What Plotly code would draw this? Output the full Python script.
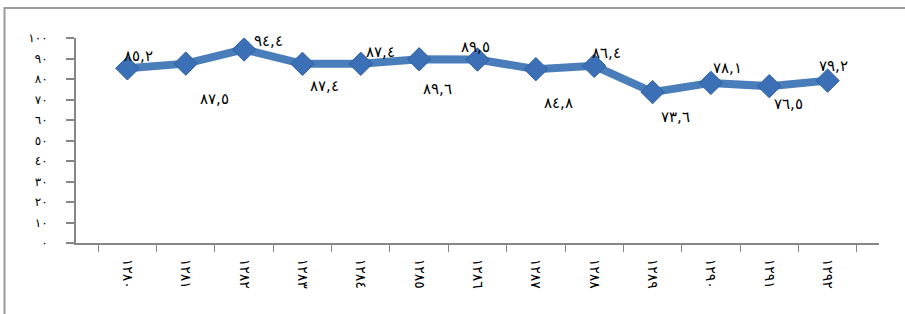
import plotly.graph_objects as go

years = [1280, 1281, 1282, 1283, 1284, 1285, 1286, 1287, 1288, 1289, 1290, 1291, 1292]
values = [85.2, 87.5, 94.4, 87.4, 87.4, 89.6, 89.5, 84.8, 86.4, 73.6, 78.1, 76.5, 79.2]
y_ticks = [0, 10, 20, 30, 40, 50, 60, 70, 80, 90, 100]

# label placement (pixels relative to each marker; style only)
label_dx = [11, 29, 24, 22, 20, 18, -2, 23, 12, 23, 17, 19, 6]
label_dy = [-12, 35, -8, 22, -12, 30, -13, 34, -13, 25, -15, 18, -15]

AR = str.maketrans("0123456789.", "٠١٢٣٤٥٦٧٨٩,")


def ar(v):
    return str(v).translate(AR)


cats = [ar(y) for y in years]

W, H = 905, 314
ML, MR, MT, MB = 76, 26, 38, 71
pw, ph = W - ML - MR, H - MT - MB

fig = go.Figure()
fig.add_trace(go.Scatter(
    x=cats, y=values, mode="lines+markers",
    line=dict(color="#4a7ebb", width=8),
    marker=dict(symbol="diamond", size=18, color="#3b70b6",
                line=dict(color="#2e5f9f", width=1)),
    hoverinfo="skip", showlegend=False,
))

for c, v, dx, dy in zip(cats, values, label_dx, label_dy):
    fig.add_annotation(
        x=c, y=v, text=ar(v), showarrow=False,
        xshift=dx, yshift=-dy,
        font=dict(family="DejaVu Sans", size=15, color="#000000"),
    )

# outer chart frame
fig.add_shape(type="rect", xref="paper", yref="paper",
              x0=(4.5 - ML) / pw, x1=(W + 5 - ML) / pw,
              y0=(H - MB - (H + 5)) / ph, y1=(H - MB - 8) / ph,
              line=dict(color="#9a9a9a", width=2), layer="below")

fig.update_layout(
    width=W, height=H,
    margin=dict(l=ML, r=MR, t=MT, b=MB),
    paper_bgcolor="white", plot_bgcolor="white",
    xaxis=dict(
        type="category", showgrid=False, showline=True, linecolor="#868686",
        linewidth=2, ticks="outside", tickson="boundaries", ticklen=7,
        tickcolor="#868686", tickwidth=1, tickangle=90,
        tickfont=dict(family="DejaVu Sans", size=14, color="#000000"),
        ticklabelstandoff=11, zeroline=False, automargin=False,
    ),
    yaxis=dict(
        range=[0, 100], showgrid=False, showline=True, linecolor="#868686",
        linewidth=2, ticks="outside", ticklen=8, tickcolor="#868686",
        tickwidth=2, tickvals=y_ticks, ticktext=[ar(t) for t in y_ticks],
        tickfont=dict(family="DejaVu Sans", size=12, color="#000000"),
        ticklabelstandoff=16, zeroline=False, automargin=False,
    ),
)

fig.write_html("out.html", config={"displayModeBar": False},
               post_script="document.body.style.margin='0';document.body.style.overflow='hidden';")
